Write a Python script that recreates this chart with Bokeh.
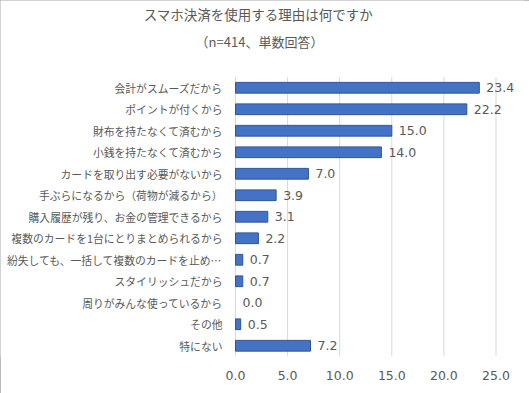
from bokeh.plotting import figure
from bokeh.models import (ColumnDataSource, Range1d, FixedTicker, Label,
                          CustomJSTickFormatter, LabelSet)
from bokeh.core.properties import value
from bokeh.embed import file_html
from bokeh.resources import INLINE

title = "スマホ決済を使用する理由は何ですか"
subtitle = "（n=414、単数回答）"
categories = [
    "会計がスムーズだから",
    "ポイントが付くから",
    "財布を持たなくて済むから",
    "小銭を持たなくて済むから",
    "カードを取り出す必要がないから",
    "手ぶらになるから（荷物が減るから）",
    "購入履歴が残り、お金の管理できるから",
    "複数のカードを1台にとりまとめられるから",
    "紛失しても、一括して複数のカードを止め…",
    "スタイリッシュだから",
    "周りがみんな使っているから",
    "その他",
    "特にない",
]
values = [23.4, 22.2, 15.0, 14.0, 7.0, 3.9, 3.1, 2.2, 0.7, 0.7, 0.0, 0.5, 7.2]
x_ticks = [0, 5, 10, 15, 20, 25]

# layout constants (pixels)
W, H = 529, 393
LEFT, RIGHT, BOTTOM = 235, 5, 37   # position of the value-axis origin, margins
ROW_PX = 21.5          # pixel height of one category row
X_PX = 10.42           # pixels per unit on the value axis

n = len(categories)
ypos = [n - 1 - i for i in range(n)]          # first category on top
frame_h = H - BOTTOM

src = ColumnDataSource(dict(y=ypos, val=values, cat=categories,
                            zero=[0] * n,
                            lab=[f"{v:.1f}" for v in values],
                            la=[1.0 if v > 0 else 0.0 for v in values]))

JP = "Noto Sans CJK JP"
NUM = "DejaVu Sans"
GREY = "#595959"

p = figure(width=W, height=H, output_backend="svg", toolbar_location=None,
           x_range=Range1d(-LEFT / X_PX, (W - RIGHT - LEFT) / X_PX),
           y_range=Range1d(-0.5, -0.5 + frame_h / ROW_PX))
p.min_border_left = 0
p.min_border_right = RIGHT
p.min_border_top = 0
p.min_border_bottom = BOTTOM
p.outline_line_color = None
p.styles = {"outline": "1px solid #A6A6A6", "outline-offset": "-1px"}
p.yaxis.visible = False

# vertical grid lines only across the bar area
p.segment(x0=x_ticks, x1=x_ticks, y0=[-0.5] * len(x_ticks),
          y1=[n - 0.5] * len(x_ticks), line_color="#D9D9D9", line_width=1)
p.xgrid.grid_line_color = None
p.ygrid.grid_line_color = None

p.hbar(y="y", right="val", left=0, height=0.5, source=src,
       fill_color="#4472C4", line_color="#2F5597", line_alpha="la", line_width=1)
p.add_layout(LabelSet(x="val", y="y", text="lab", source=src, x_offset=7,
                      text_baseline="middle", text_align="left",
                      text_font=value(NUM), text_font_size="12.5px",
                      text_color=GREY))
# category labels
p.add_layout(LabelSet(x="zero", y="y", text="cat", source=src, x_offset=-13,
                      text_baseline="middle", text_align="right",
                      text_font=value(JP), text_font_size="10.8px",
                      text_color=GREY))

p.xaxis.ticker = FixedTicker(ticks=x_ticks)
p.xaxis.formatter = CustomJSTickFormatter(code="return tick.toFixed(1);")
p.xaxis.axis_line_color = None
p.xaxis.major_tick_line_color = None
p.xaxis.minor_tick_line_color = None
p.xaxis.major_label_text_color = GREY
p.xaxis.major_label_text_font = NUM
p.xaxis.major_label_text_font_size = "12.5px"
p.xaxis.major_label_standoff = 8

p.add_layout(Label(x=0, y=n - 0.5, x_offset=23, y_offset=63, text=title,
                   text_align="center", text_baseline="middle",
                   text_font=JP, text_font_size="13.5px", text_color=GREY))
p.add_layout(Label(x=0, y=n - 0.5, x_offset=24, y_offset=36, text=subtitle,
                   text_align="center", text_baseline="middle",
                   text_font=JP, text_font_size="13px", text_color=GREY))

open("out.html", "w").write(file_html(p, INLINE))
